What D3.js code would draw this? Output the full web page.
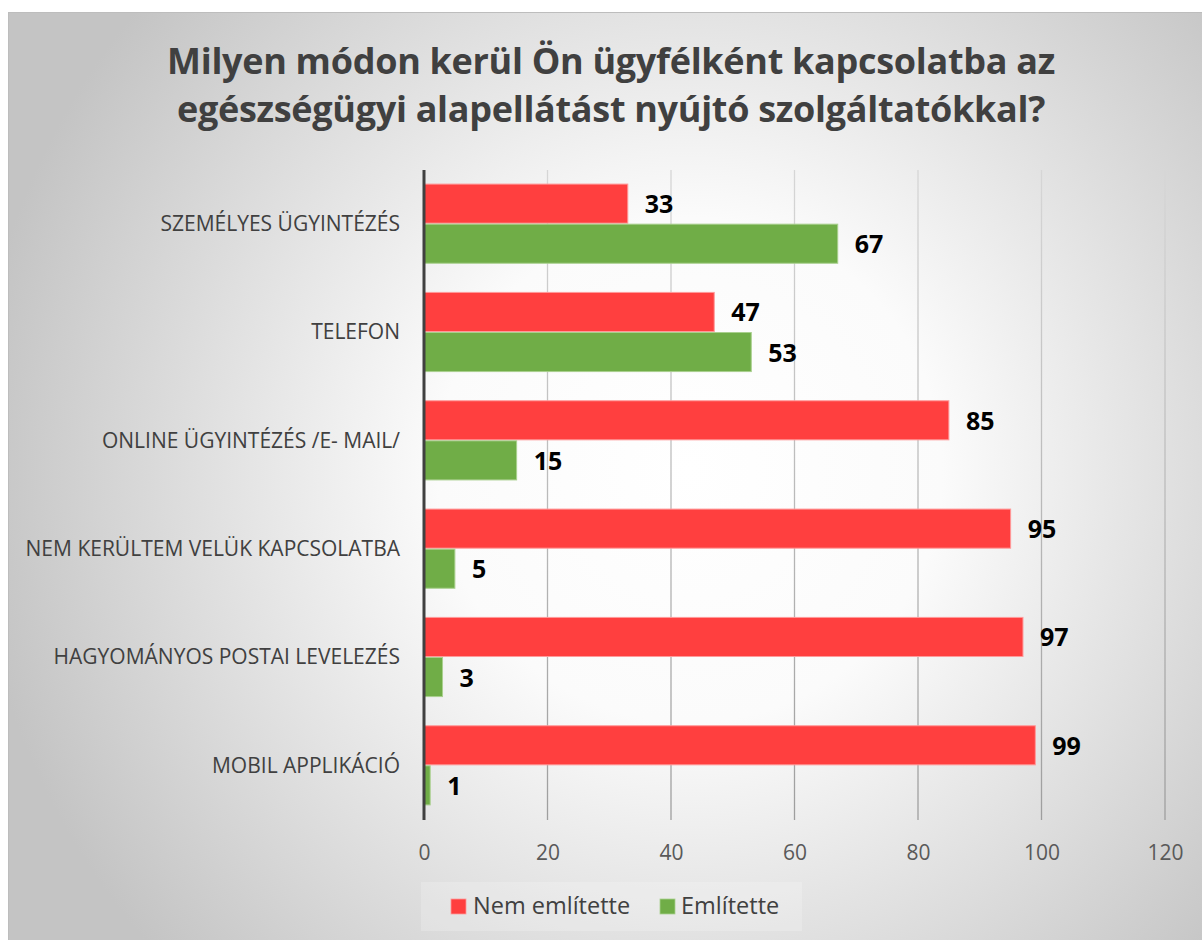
<!DOCTYPE html>
<html>
<head>
<meta charset="utf-8">
<script src="https://cdn.jsdelivr.net/npm/d3@7"></script>
<style>
  html, body { margin: 0; padding: 0; background: #ffffff; }
  svg { display: block; }
</style>
</head>
<body>
<script>
// Survey answers: share of respondents (%) per contact channel
const categories = [
  "SZEMÉLYES ÜGYINTÉZÉS",
  "TELEFON",
  "ONLINE ÜGYINTÉZÉS /E- MAIL/",
  "NEM KERÜLTEM VELÜK KAPCSOLATBA",
  "HAGYOMÁNYOS POSTAI LEVELEZÉS",
  "MOBIL APPLIKÁCIÓ"
];
const seriesNames = ["Nem említette", "Említette"];
const nemEmlitette = [33, 47, 85, 95, 97, 99];
const emlitette = [67, 53, 15, 5, 3, 1];
const xTicks = [0, 20, 40, 60, 80, 100, 120];
const titleLines = [
  "Milyen módon kerül Ön ügyfélként kapcsolatba az",
  "egészségügyi alapellátást nyújtó szolgáltatókkal?"
];

const W = 1202, H = 940;
const colors = ["#FF3F3F", "#70AD47"];
const strokes = ["#FF9A9A", "#A9D08E"];
const font = "'Open Sans', 'Noto Sans', sans-serif";

const svg = d3.select("body").append("svg")
  .attr("width", W).attr("height", H);

const defs = svg.append("defs");
const grad = defs.append("radialGradient")
  .attr("id", "bg")
  .attr("gradientUnits", "userSpaceOnUse")
  .attr("cx", 690).attr("cy", 470).attr("r", 720);
grad.append("stop").attr("offset", "0%").attr("stop-color", "#ffffff");
grad.append("stop").attr("offset", "35%").attr("stop-color", "#fbfbfb");
grad.append("stop").attr("offset", "100%").attr("stop-color", "#c4c4c4");

const plot = { left: 424, right: 1165, top: 170, bottom: 820 };

// gridlines fade from light at the top to darker grey at the bottom
const gridGrad = defs.append("linearGradient")
  .attr("id", "grid")
  .attr("gradientUnits", "userSpaceOnUse")
  .attr("x1", 0).attr("y1", plot.top).attr("x2", 0).attr("y2", plot.bottom);
gridGrad.append("stop").attr("offset", "0%").attr("stop-color", "#d6d6d6");
gridGrad.append("stop").attr("offset", "100%").attr("stop-color", "#9e9e9e");

// chart frame
svg.append("rect")
  .attr("x", 8.5).attr("y", 12.5)
  .attr("width", W).attr("height", H)
  .attr("fill", "url(#bg)")
  .attr("stroke", "#bdbdbd").attr("stroke-width", 1);

// title
svg.append("g").selectAll("text")
  .data(titleLines).join("text")
  .attr("x", 611).attr("y", (d, i) => 74 + i * 48)
  .attr("text-anchor", "middle")
  .attr("font-family", font)
  .attr("font-weight", "bold")
  .attr("font-size", 36)
  .attr("letter-spacing", -0.3)
  .attr("fill", "#404040")
  .text(d => d);

const x = d3.scaleLinear().domain([0, 120]).range([plot.left, plot.right]);
const y = d3.scaleBand().domain(categories).range([plot.top, plot.bottom]).paddingInner(0.26).paddingOuter(0.13);
const sub = d3.scaleBand().domain(seriesNames).range([0, y.bandwidth()]).padding(0);

// vertical gridlines
svg.append("g").selectAll("line")
  .data(xTicks.filter(t => t > 0)).join("line")
  .attr("x1", d => x(d)).attr("x2", d => x(d))
  .attr("y1", plot.top).attr("y2", plot.bottom)
  .attr("stroke", "url(#grid)").attr("stroke-width", 1.3);

// x-axis tick labels
const xAxis = d3.axisBottom(x).tickValues(xTicks).tickSize(0).tickPadding(0);
const gx = svg.append("g")
  .attr("transform", `translate(0,${plot.bottom + 40})`)
  .call(xAxis);
gx.select(".domain").remove();
gx.selectAll("text")
  .attr("font-family", font)
  .attr("font-size", 21)
  .attr("fill", "#595959")
  .attr("dy", 0);

// category labels
const yAxis = d3.axisLeft(y).tickSize(0).tickPadding(0);
const gy = svg.append("g")
  .attr("transform", `translate(${plot.left - 24},0)`)
  .call(yAxis);
gy.select(".domain").remove();
gy.selectAll("text")
  .attr("font-family", font)
  .attr("font-size", 21)
  .attr("fill", "#404040");

const rows = categories.map((c, i) => ({ cat: c, vals: [nemEmlitette[i], emlitette[i]] }));

const groups = svg.append("g").selectAll("g")
  .data(rows).join("g")
  .attr("transform", d => `translate(0,${y(d.cat)})`);

groups.selectAll("rect")
  .data(d => d.vals.map((v, j) => ({ v, s: seriesNames[j], j })))
  .join("rect")
  .attr("x", x(0))
  .attr("y", d => sub(d.s))
  .attr("width", d => x(d.v) - x(0))
  .attr("height", sub.bandwidth() - 1)
  .attr("fill", d => colors[d.j])
  .attr("stroke", d => strokes[d.j])
  .attr("stroke-width", 1);

groups.selectAll("text")
  .data(d => d.vals.map((v, j) => ({ v, s: seriesNames[j], j })))
  .join("text")
  .attr("x", d => x(d.v) + 17)
  .attr("y", d => sub(d.s) + sub.bandwidth() / 2)
  .attr("dy", "0.36em")
  .attr("font-family", font)
  .attr("font-weight", "bold")
  .attr("font-size", 25)
  .attr("fill", "#000000")
  .text(d => d.v);

// value axis line at zero
svg.append("line")
  .attr("x1", x(0)).attr("x2", x(0))
  .attr("y1", plot.top).attr("y2", plot.bottom)
  .attr("stroke", "#404040").attr("stroke-width", 3);

// legend
const lg = svg.append("g").attr("transform", "translate(421,882)");
lg.append("rect").attr("width", 381).attr("height", 49)
  .attr("fill", "#ffffff").attr("fill-opacity", 0.2);
const items = [{ name: seriesNames[0], x: 30, tx: 52 }, { name: seriesNames[1], x: 239, tx: 260 }];
items.forEach((it, i) => {
  lg.append("rect").attr("x", it.x).attr("y", 17).attr("width", 15).attr("height", 15)
    .attr("fill", colors[i]).attr("stroke", strokes[i]).attr("stroke-width", 0.8);
  lg.append("text").attr("x", it.tx).attr("y", 32)
    .attr("font-family", font).attr("font-size", 23.5).attr("fill", "#404040")
    .text(it.name);
});
</script>
</body>
</html>
